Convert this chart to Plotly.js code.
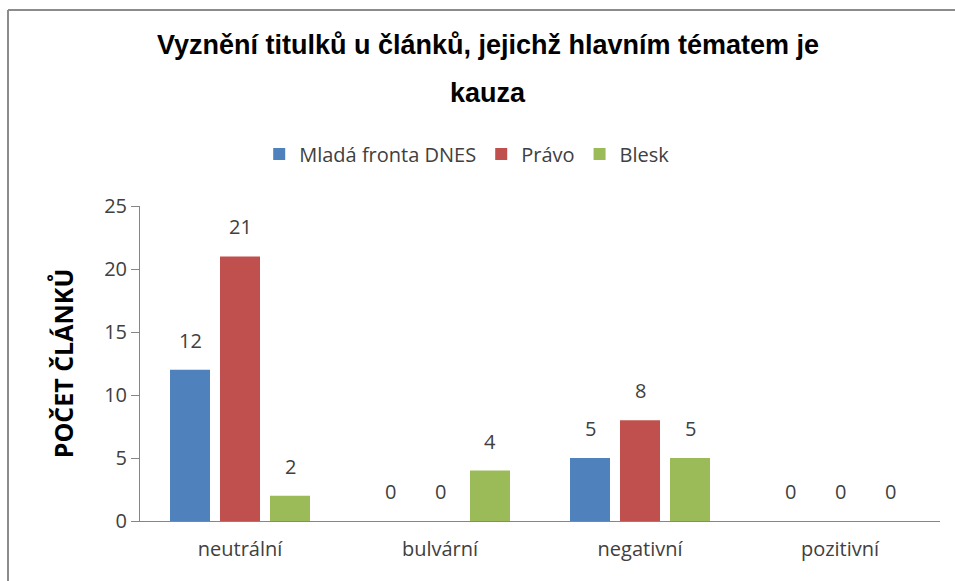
<!DOCTYPE html>
<html>
<head>
<meta charset="utf-8">
<script src="https://cdn.plot.ly/plotly-3.0.1.min.js"></script>
<style>html,body{margin:0;padding:0;background:#fff;}#chart{width:955px;height:581px;}</style>
</head>
<body>
<div id="chart"></div>
<script>
const categories = ["neutrální", "bulvární", "negativní", "pozitivní"];
const seriesNames = ["Mladá fronta DNES", "Právo", "Blesk"];
const mfDnes = [12, 0, 5, 0];
const pravo = [21, 0, 8, 0];
const blesk = [2, 4, 5, 0];
const yTicks = [0, 5, 10, 15, 20, 25];
const titleLine1 = "Vyznění titulků u článků, jejichž hlavním tématem je";
const titleLine2 = "kauza";
const yTitle = "POČET ČLÁNKŮ";

const colors = ["#4F81BD", "#C0504D", "#9BBB59"];
const seriesValues = [mfDnes, pravo, blesk];
const font = "Open Sans, Liberation Sans, sans-serif";
const titleFont = {family: "Liberation Sans, Arial, sans-serif", size: 27, color: "#000", weight: "bold"};

const traces = seriesValues.map((vals, i) => ({
  type: "bar",
  name: seriesNames[i],
  x: categories,
  y: vals,
  marker: {color: colors[i]},
  hoverinfo: "none"
}));

const annotations = [];
seriesValues.forEach((vals, i) => {
  vals.forEach((v, j) => {
    annotations.push({
      x: categories[j], y: v, xref: "x", yref: "y",
      text: String(v), showarrow: false,
      xshift: (i - 1) * 50, yshift: 14, yanchor: "bottom",
      font: {family: font, size: 20, color: "#404040"}
    });
  });
});
annotations.push({
  text: titleLine2, xref: "paper", yref: "paper", x: 0.435, y: 1.36,
  xanchor: "center", yanchor: "middle", showarrow: false, font: titleFont
});

const layout = {
  width: 955, height: 581,
  margin: {l: 140, r: 15, t: 206, b: 60},
  paper_bgcolor: "#fff", plot_bgcolor: "#fff",
  barmode: "group", bargap: 0.25, bargroupgap: 0.2,
  title: {
    text: titleLine1,
    font: titleFont,
    x: 0.511, xref: "container", xanchor: "center",
    y: 0.923, yref: "container", yanchor: "middle"
  },
  showlegend: true,
  legend: {
    orientation: "h", x: 0.409, xanchor: "center", y: 1.165, yanchor: "middle",
    font: {family: font, size: 20, color: "#404040"},
    traceorder: "normal", itemclick: false, itemwidth: 30
  },
  xaxis: {
    type: "category",
    showline: true, linecolor: "#868686", linewidth: 1,
    ticks: "", showgrid: false, zeroline: false,
    tickfont: {family: font, size: 20, color: "#404040"},
    ticklabelstandoff: 10
  },
  yaxis: {
    range: [0, 25], tickvals: yTicks,
    showline: true, linecolor: "#868686", linewidth: 1,
    ticks: "outside", ticklen: 8, tickcolor: "#868686",
    showgrid: false, zeroline: false,
    tickfont: {family: font, size: 20, color: "#404040"},
    title: {text: yTitle, font: {family: font, size: 25, color: "#000", weight: "bold"}, standoff: 23}
  },
  annotations: annotations,
  shapes: [
    {type: "line", xref: "paper", yref: "paper", x0: -0.165, x1: -0.165, y0: 1.622, y1: -0.2, line: {color: "#8c8c8c", width: 2}},
    {type: "line", xref: "paper", yref: "paper", x0: -0.165, x1: 1.03, y0: 1.622, y1: 1.622, line: {color: "#8c8c8c", width: 2}}
  ]
};

Plotly.newPlot("chart", traces, layout, {displayModeBar: false, staticPlot: true});
</script>
</body>
</html>
